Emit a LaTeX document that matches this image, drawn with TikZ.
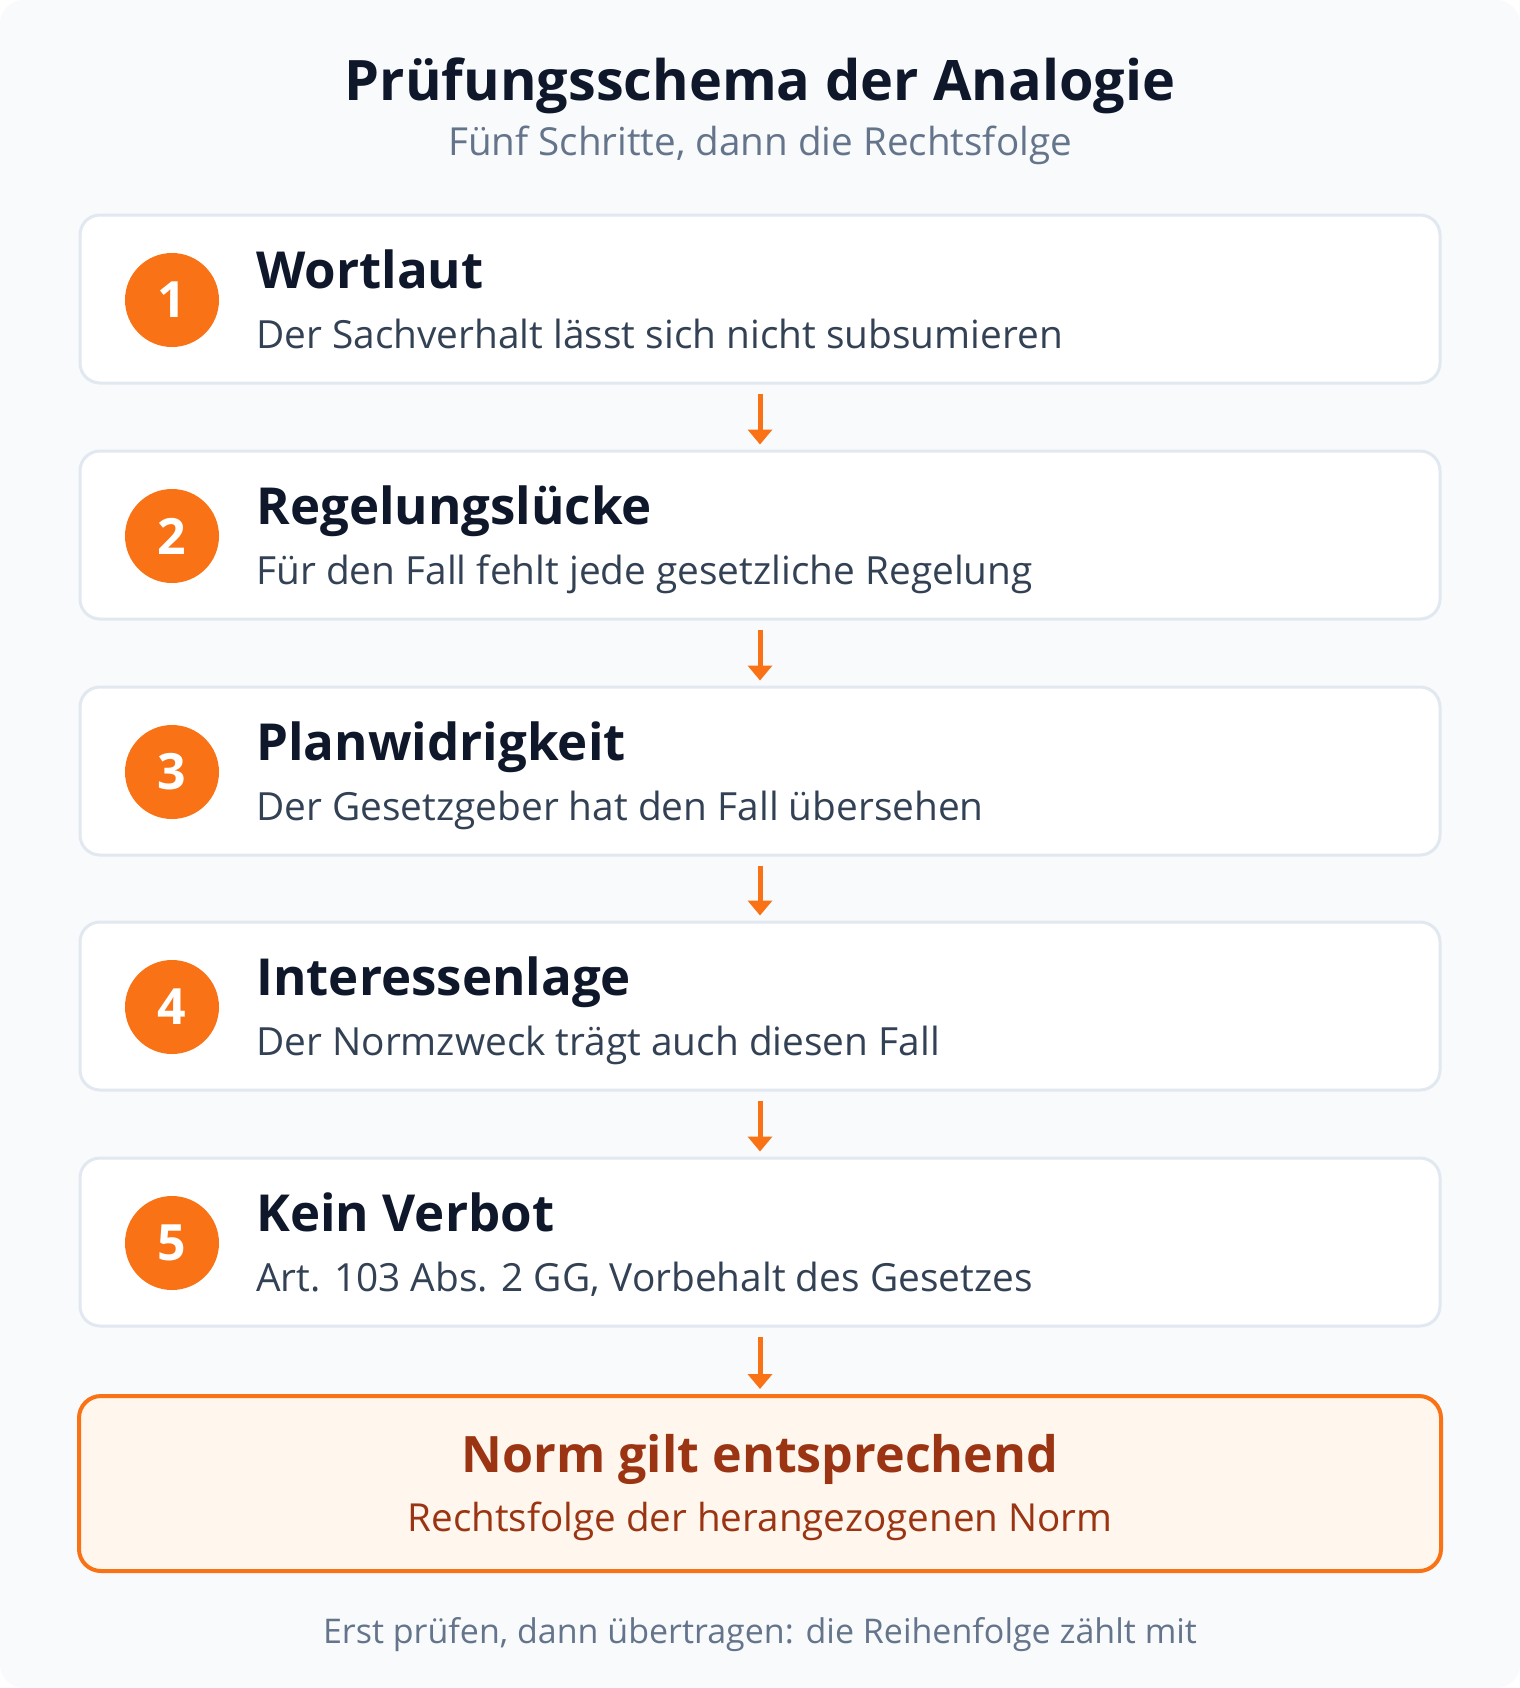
\documentclass[tikz,border=0pt]{standalone}
\usepackage{fontspec}
\setmainfont{Open Sans}
\usetikzlibrary{positioning,arrows.meta}

\definecolor{bgfill}{HTML}{F8FAFC}
\definecolor{cardline}{HTML}{E2E8F0}
\definecolor{ink}{HTML}{0F172A}
\definecolor{slate}{HTML}{334155}
\definecolor{muted}{HTML}{64748B}
\definecolor{orange}{HTML}{F97316}
\definecolor{peach}{HTML}{FFF7ED}
\definecolor{rust}{HTML}{9A3412}

\begin{document}
\begin{tikzpicture}[x=0.5pt,y=-0.5pt]
		\tikzstyle{every node}+=[inner sep=0pt]
		\tikzstyle{card}=[draw=cardline, line width=1.5pt, fill=white, rounded corners=10pt, minimum width=680pt, minimum height=84pt]
		\tikzstyle{badge}=[circle, fill=orange, minimum size=47pt, text=white, font=\bfseries\fontsize{25}{30}\selectfont]
		\tikzstyle{steptitle}=[anchor=base west, text=ink, font=\bfseries\fontsize{25.5}{30}\selectfont]
		\tikzstyle{stepdesc}=[anchor=base west, text=slate, font=\fontsize{19.4}{23}\selectfont]
		\tikzstyle{flow}=[draw=orange, line width=2.5pt, -{Triangle[width=12pt,length=7.5pt]}]
		% background
		\fill [white] (0,0) rectangle (1520,1688);
		\fill [bgfill, rounded corners=12pt] (0,0) rectangle (1520,1688);
		% heading
		\node [anchor=base, text=ink, font=\bfseries\fontsize{27.9}{33}\selectfont] (head) at (760,100) {Prüfungsschema der Analogie};
		\node [anchor=base, text=muted, font=\fontsize{19.3}{23}\selectfont] (sub) at (760,155) {Fünf Schritte, dann die Rechtsfolge};
		% step 1
		\node [card] (c1) at (760,299) {};
		\node [badge] (n1) at (172,300) {1};
		\node [steptitle] (t1) at (256,288) {Wortlaut};
		\node [stepdesc] (d1) at (256,348) {Der Sachverhalt lässt sich nicht subsumieren};
		% step 2
		\node [card] (c2) at (760,535) {};
		\node [badge] (n2) at (172,536) {2};
		\node [steptitle] (t2) at (256,524) {Regelungslücke};
		\node [stepdesc] (d2) at (256,584) {Für den Fall fehlt jede gesetzliche Regelung};
		% step 3
		\node [card] (c3) at (760,771) {};
		\node [badge] (n3) at (172,772) {3};
		\node [steptitle] (t3) at (256,760) {Planwidrigkeit};
		\node [stepdesc] (d3) at (256,820) {Der Gesetzgeber hat den Fall übersehen};
		% step 4
		\node [card] (c4) at (760,1006) {};
		\node [badge] (n4) at (172,1007) {4};
		\node [steptitle] (t4) at (256,995) {Interessenlage};
		\node [stepdesc] (d4) at (256,1055) {Der Normzweck trägt auch diesen Fall};
		% step 5
		\node [card] (c5) at (760,1242) {};
		\node [badge] (n5) at (172,1243) {5};
		\node [steptitle] (t5) at (256,1231) {Kein Verbot};
		\node [stepdesc] (d5) at (256,1291) {Art. 103 Abs. 2 GG, Vorbehalt des Gesetzes};
		% result
		\node [draw=orange, line width=2pt, fill=peach, rounded corners=11pt, minimum width=681pt, minimum height=87.5pt] (res) at (760,1483.5) {};
		\node [anchor=base, text=rust, font=\bfseries\fontsize{25.1}{30}\selectfont] (rt) at (760,1472) {Norm gilt entsprechend};
		\node [anchor=base, text=rust, font=\fontsize{19.3}{23}\selectfont] (rd) at (760,1531) {Rechtsfolge der herangezogenen Norm};
		% arrows
		\draw [flow] ([yshift=-4.5pt]c1.south) -- ([yshift=2.5pt]c2.north);
		\draw [flow] ([yshift=-4.5pt]c2.south) -- ([yshift=2.5pt]c3.north);
		\draw [flow] ([yshift=-4.5pt]c3.south) -- ([yshift=2.5pt]c4.north);
		\draw [flow] ([yshift=-4.5pt]c4.south) -- ([yshift=2.5pt]c5.north);
		\draw [flow] ([yshift=-4.5pt]c5.south) -- ([yshift=2.5pt]res.north);
		% footer
		\node [anchor=base, text=muted, font=\fontsize{17}{20}\selectfont] (foot) at (760,1643) {Erst prüfen, dann übertragen: die Reihenfolge zählt mit};
\end{tikzpicture}
\end{document}
